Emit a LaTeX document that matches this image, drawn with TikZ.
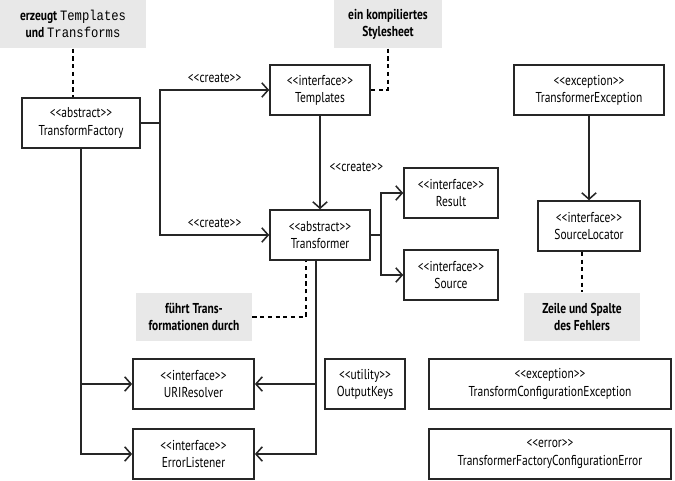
\documentclass[tikz,border=0pt]{standalone}
\usepackage{fontspec}
\setmainfont{PT Sans}[FakeStretch=0.8]
\setmonofont{Liberation Mono}[FakeStretch=0.85]
\usetikzlibrary{arrows.meta,positioning}
\newcommand{\st}[1]{{<}{<}#1{>}{>}}
\tikzset{font=\fontsize{10.2}{12.2}\selectfont}
\tikzstyle{cls}=[rectangle,draw=black!85,line width=1.1pt,minimum height=1.25cm,align=center,inner sep=1pt]
\tikzstyle{note}=[rectangle,fill=black!9,minimum height=1.22cm,align=center,font=\fontsize{10.2}{12.2}\selectfont\bfseries]
\tikzstyle{inarrow}=[-{Straight Barb[length=1.6mm,width=3.6mm]},line width=1.1pt,draw=black!85]
\tikzstyle{link}=[line width=1.1pt,draw=black!85]
\tikzstyle{comment}=[dashed,dash pattern=on 3pt off 2.5pt,line width=1.1pt]
\begin{document}
\begin{tikzpicture}[x=0.025cm,y=-0.025cm]
	\useasboundingbox (0,0) rectangle (675,480);
	% classes
	\node [cls,minimum width=2.95cm] (TF) at (81,123) {\st{abstract}\\TransformFactory};
	\node [cls,minimum width=2.5cm] (Tpl) at (320,90) {\st{interface}\\Templates};
	\node [cls,minimum width=2.5cm] (Trf) at (320,235) {\st{abstract}\\Transformer};
	\node [cls,minimum width=2.35cm] (Res) at (451,193) {\st{interface}\\Result};
	\node [cls,minimum width=2.35cm] (Src) at (451,275) {\st{interface}\\Source};
	\node [cls,minimum width=3.75cm] (TExc) at (589,90) {\st{exception}\\TransformerException};
	\node [cls,minimum width=2.55cm] (SLoc) at (589,226) {\st{interface}\\SourceLocator};
	\node [cls,minimum width=3.03cm] (URI) at (193.5,384) {\st{interface}\\URIResolver};
	\node [cls,minimum width=3.03cm] (ErrL) at (193.5,454) {\st{interface}\\ErrorListener};
	\node [cls,minimum width=2.0cm] (OKeys) at (365,384) {\st{utility}\\OutputKeys};
	\node [cls,minimum width=6.05cm] (TCExc) at (550,384) {\st{exception}\\TransformConfigurationException};
	\node [cls,minimum width=6.05cm] (TFCErr) at (550,454) {\st{error}\\TransformerFactoryConfigurationError};
	% notes
	\node [note,minimum width=3.65cm] (N1) at (73,24) {erzeugt \mdseries\texttt{Templates}\\und \mdseries\texttt{Transforms}};
	\node [note,minimum width=2.7cm] (N2) at (388,24) {ein kompiliertes\\Stylesheet};
	\node [note,minimum width=2.9cm] (N3) at (194,317) {führt Trans-\\formationen durch};
	\node [note,minimum width=2.88cm] (N4) at (582,317) {Zeile und Spalte\\des Fehlers};
	% connectors
	\coordinate (fsplit) at (160,123);
	\coordinate (tsplit) at (381,235);
	\draw [style=link] (TF.east) -- (fsplit);
	\draw [style=inarrow] (fsplit) |- (Tpl.west) node [pos=0.75,above=1pt] {\st{create}};
	\draw [style=inarrow] (fsplit) |- (Trf.west) node [pos=0.75,above=1pt] {\st{create}};
	\draw [style=inarrow] (Tpl) -- (Trf) node [midway,right=3pt,yshift=-3pt] {\st{create}};
	\draw [style=link] (Trf.east) -- (tsplit);
	\draw [style=inarrow] (tsplit) |- (Res.west);
	\draw [style=inarrow] (tsplit) |- (Src.west);
	\draw [style=inarrow] (TF.south) |- (URI.west);
	\draw [style=inarrow] (TF.south) |- (ErrL.west);
	\draw [style=inarrow] ([xshift=-0.1cm]Trf.south) |- (URI.east);
	\draw [style=inarrow] ([xshift=-0.1cm]Trf.south) |- (ErrL.east);
	\draw [style=inarrow] (TExc) -- (SLoc);
	% comments
	\draw [style=comment] (N1.south) -- (N1.south |- TF.north);
	\draw [style=comment] (N2.south) |- (Tpl.east);
	\draw [style=comment] (N3.east) -| ([xshift=-0.35cm]Trf.south);
	\draw [style=comment] (SLoc.south -| N4.north) -- (N4.north);
\end{tikzpicture}
\end{document}
